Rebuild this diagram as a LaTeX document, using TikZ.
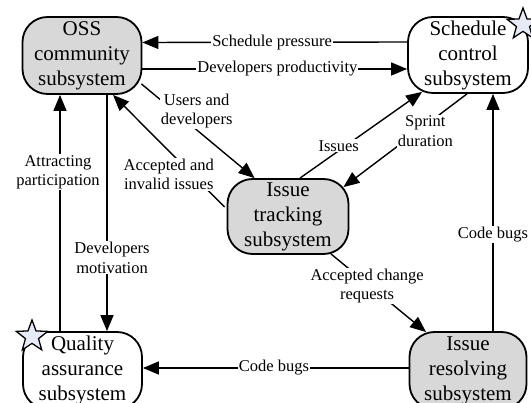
\documentclass[tikz,border=0pt]{standalone}
\usepackage{fontspec}
\setmainfont{Liberation Serif}
\usetikzlibrary{arrows.meta,shapes.geometric,calc}
\definecolor{boxgray}{HTML}{D8D8D8}
\definecolor{starfill}{HTML}{E6EBF7}
\begin{document}
\begin{tikzpicture}[x=1pt,y=-1pt,
  sysbox/.style={draw, line width=1.8pt, rounded corners=25pt,
    minimum width=119pt, minimum height=77pt, inner sep=0pt,
    align=center, font=\fontsize{21}{25}\selectfont},
  graybox/.style={sysbox, fill=boxgray},
  whitebox/.style={sysbox, fill=white},
  conn/.style={line width=1.4pt, -{Triangle[length=16pt,width=13pt]}},
  lbl/.style={fill=white, inner sep=1pt, align=center,
    font=\fontsize{16.5}{19.5}\selectfont},
  prize/.style={star, star points=5, star point ratio=2.4,
    minimum size=33pt, inner sep=0pt, draw, line width=1.3pt, fill=starfill}]
\useasboundingbox (0,0) rectangle (531,403);

% subsystems
\node[graybox]  (oss)   at (82,55.5)   {OSS\\community\\subsystem};
\node[whitebox, minimum width=120pt, minimum height=76pt] (sched) at (468,55) {Schedule\\control\\subsystem};
\node[graybox, minimum width=121pt, minimum height=75pt] (track) at (288,216.5) {Issue\\tracking\\subsystem};
\node[whitebox] (qa)    at (82.5,370.5) {Quality\\assurance\\subsystem};
\node[graybox, minimum width=117pt] (res)   at (468,370.5) {Issue\\resolving\\subsystem};

% flows between subsystems
\draw[conn] ($(sched.west)+(0,-13)$) -- node[lbl,pos=0.51]{Schedule pressure} ($(oss.east)+(0,-13)$);
\draw[conn] ($(oss.east)+(0,13.5)$) -- node[lbl,pos=0.51]{Developers productivity} ($(sched.west)+(0,14)$);
\draw[conn] ($(oss.south east)+(-1,-11)$) -- node[lbl,pos=0.4,xshift=10pt,yshift=10.6pt]{Users and\\developers} ($(track.north west)+(28,0)$);
\draw[conn] ($(track.west)+(-2,-9.5)$) -- node[lbl,pos=0.5,yshift=-23.5pt]{Accepted and\\invalid issues} ($(oss.south)+(31,0)$);
\draw[conn] ($(track.north)+(12,0)$) -- node[lbl,pos=0.317,yshift=5pt]{Issues} ($(sched.south west)+(15,-2)$);
\draw[conn] ($(sched.south)+(-1,0)$) -- node[lbl,pos=0.337,yshift=-6pt]{Sprint\\duration} ($(track.north east)+(-6,9)$);
\draw[conn] ($(res.north)+(25,0)$) -- node[lbl,pos=0.406]{Code bugs} ($(sched.south)+(25,0)$);
\draw[conn] ($(res.west)+(0,-2.5)$) -- node[lbl,pos=0.507]{Code bugs} ($(qa.east)+(0,-2.5)$);
\draw[conn] ($(track.south east)+(-18.5,-1)$) -- node[lbl,pos=0.38,yshift=-2.6pt]{Accepted change\\requests} ($(res.north west)+(17.5,1)$);
\draw[conn] ($(oss.south)+(25,0)$) -- node[lbl,pos=0.69,xshift=5pt]{Developers\\motivation} ($(qa.north)+(24.5,0)$);
\draw[conn] ($(qa.north)+(-22.5,0)$) -- node[lbl,pos=0.672,xshift=-2pt]{Attracting\\participation} ($(oss.south)+(-22,0)$);

% highlight stars
\node[prize] (starsched) at (523,24.5) {};
\node[prize] (starqa) at (32,336.5) {};
\end{tikzpicture}
\end{document}
